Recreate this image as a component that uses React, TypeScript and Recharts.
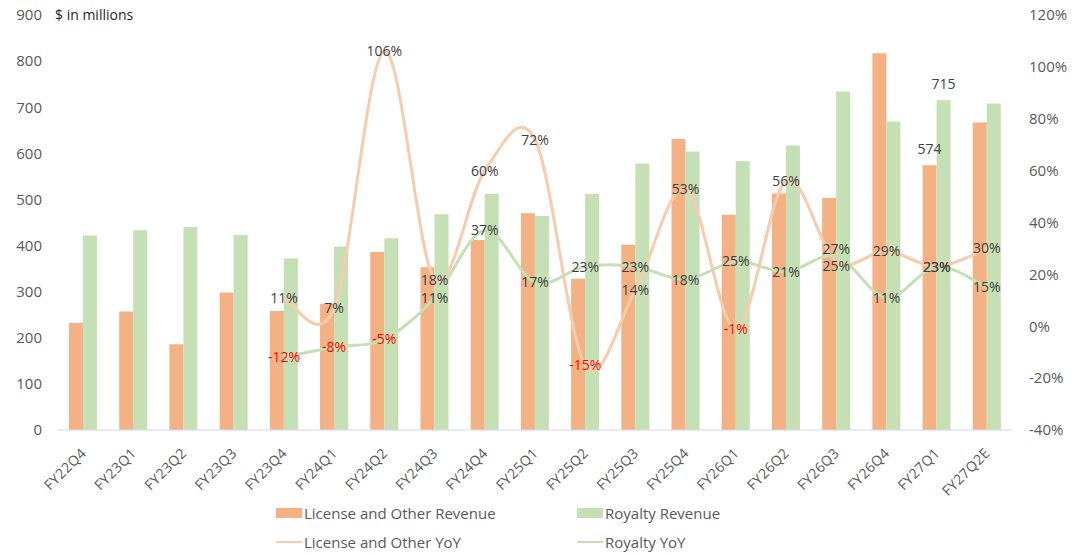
import React from 'react';
import { ComposedChart, Bar, Line, XAxis, YAxis, LabelList } from 'recharts';

const quarters = [
  'FY22Q4', 'FY23Q1', 'FY23Q2', 'FY23Q3', 'FY23Q4', 'FY24Q1', 'FY24Q2', 'FY24Q3', 'FY24Q4', 'FY25Q1',
  'FY25Q2', 'FY25Q3', 'FY25Q4', 'FY26Q1', 'FY26Q2', 'FY26Q3', 'FY26Q4', 'FY27Q1', 'FY27Q2E',
];
// $ in millions
const licenseRevenue = [232, 257, 186, 298, 258, 274, 386, 353, 412, 470, 328, 402, 631, 467, 513, 503, 817, 574, 667];
const royaltyRevenue = [422, 433, 440, 423, 372, 398, 416, 468, 512, 464, 512, 578, 604, 583, 617, 734, 669, 715, 708];
// YoY growth, %
const licenseYoY = [null, null, null, null, 11, 7, 106, 18, 60, 72, -15, 14, 53, -1, 56, 25, 29, 23, 30];
const royaltyYoY = [null, null, null, null, -12, -8, -5, 11, 37, 17, 23, 23, 18, 25, 21, 27, 11, 23, 15];

const leftTicks = [0, 100, 200, 300, 400, 500, 600, 700, 800, 900];
const rightTicks = [-40, -20, 0, 20, 40, 60, 80, 100, 120];
const labelledQuarters = ['FY27Q1'];

const data = quarters.map((quarter, i) => ({
  quarter,
  license: licenseRevenue[i],
  royalty: royaltyRevenue[i],
  licenseYoY: licenseYoY[i],
  royaltyYoY: royaltyYoY[i],
}));

const FONT = '"Open Sans", "Noto Sans", sans-serif';
const ORANGE = '#F4B183';
const GREEN = '#C5E0B4';
const ORANGE_LINE = '#F8CBAD';
const GREEN_LINE = '#C5E0B4';

// Excel-like smoothed line (Catmull-Rom through every point)
function smoothCurve(context: any) {
  let pts: number[][] = [];
  const flush = () => {
    if (!pts.length) return;
    context.moveTo(pts[0][0], pts[0][1]);
    for (let i = 0; i < pts.length - 1; i++) {
      const p0 = pts[i - 1] || pts[i];
      const p1 = pts[i];
      const p2 = pts[i + 1];
      const p3 = pts[i + 2] || p2;
      context.bezierCurveTo(
        p1[0] + (p2[0] - p0[0]) / 6, p1[1] + (p2[1] - p0[1]) / 6,
        p2[0] - (p3[0] - p1[0]) / 6, p2[1] - (p3[1] - p1[1]) / 6,
        p2[0], p2[1],
      );
    }
    pts = [];
  };
  return {
    areaStart() {},
    areaEnd() {},
    lineStart() { pts = []; },
    lineEnd() { flush(); },
    point(x: number, y: number) { pts.push([+x, +y]); },
  };
}

const QuarterTick = (props: any) => {
  const { x, y, payload } = props;
  return (
    <g transform={`translate(${x + 4},${y + 22})`}>
      <text
        x={0}
        y={0}
        textAnchor="end"
        transform="rotate(-45)"
        fill="#595959"
        fontSize={14}
        letterSpacing={0.4}
        fontFamily={FONT}
      >
        {payload.value}
      </text>
    </g>
  );
};

const barLabel = (props: any) => {
  const { x, y, width, value, index } = props;
  if (!labelledQuarters.includes(quarters[index])) return null;
  return (
    <text x={x + width / 2} y={y - 11} textAnchor="middle" fill="#404040" fontSize={14} fontFamily={FONT}>
      {value}
    </text>
  );
};

const yoyLabel = (other: (number | null)[]) => (props: any) => {
  const { x, y, value, index } = props;
  if (value == null) return null;
  const o = other[index];
  let dy = 0;
  if (o != null && o !== value && Math.abs(o - value) < 5) dy = value > o ? -7 : 5;
  return (
    <text
      x={x}
      y={y + dy}
      dy={5}
      textAnchor="middle"
      fill={value < 0 ? '#FF0000' : '#404040'}
      fontSize={14}
      fontFamily={FONT}
    >
      {`${value}%`}
    </text>
  );
};

const legendItems = [
  { name: 'License and Other Revenue', color: ORANGE, kind: 'bar', left: 276, top: 513 },
  { name: 'Royalty Revenue', color: GREEN, kind: 'bar', left: 577, top: 513 },
  { name: 'License and Other YoY', color: ORANGE_LINE, kind: 'line', left: 276, top: 542 },
  { name: 'Royalty YoY', color: GREEN_LINE, kind: 'line', left: 577, top: 542 },
];

export default function App() {
  return (
    <div style={{ position: 'relative', width: 1080, height: 555, background: '#fff', fontFamily: FONT }}>
      <style>{'body{margin:0}'}</style>
      <ComposedChart
        width={1080}
        height={555}
        data={data}
        margin={{ top: 15, right: 0, bottom: 65, left: 0 }}
        barGap={0}
        barCategoryGap={11}
      >
        <XAxis
          dataKey="quarter"
          interval={0}
          height={60}
          tickLine={false}
          tickSize={0}
          axisLine={{ stroke: '#D6D6E6' }}
          tick={<QuarterTick />}
        />
        <YAxis
          yAxisId="left"
          domain={[0, 900]}
          ticks={leftTicks}
          width={58}
          axisLine={false}
          tickLine={false}
          tickSize={0}
          tickMargin={16}
          tick={{ fill: '#595959', fontSize: 15, fontFamily: FONT }}
        />
        <YAxis
          yAxisId="right"
          orientation="right"
          domain={[-40, 120]}
          ticks={rightTicks}
          width={68}
          axisLine={false}
          tickLine={false}
          tickSize={0}
          tickMargin={17}
          tickFormatter={(v) => `${v}%`}
          tick={{ fill: '#595959', fontSize: 15, fontFamily: FONT, textAnchor: 'start' }}
        />
        <Bar yAxisId="left" dataKey="license" name="License and Other Revenue" fill={ORANGE} isAnimationActive={false}>
          <LabelList dataKey="license" content={barLabel} />
        </Bar>
        <Bar yAxisId="left" dataKey="royalty" name="Royalty Revenue" fill={GREEN} isAnimationActive={false}>
          <LabelList dataKey="royalty" content={barLabel} />
        </Bar>
        <Line
          yAxisId="right"
          dataKey="licenseYoY"
          name="License and Other YoY"
          type={smoothCurve as any}
          stroke={ORANGE_LINE}
          strokeWidth={3}
          dot={false}
          activeDot={false}
          isAnimationActive={false}
        />
        <Line
          yAxisId="right"
          dataKey="royaltyYoY"
          name="Royalty YoY"
          type={smoothCurve as any}
          stroke={GREEN_LINE}
          strokeWidth={3}
          dot={false}
          activeDot={false}
          isAnimationActive={false}
        />
        {/* label-only copies so the percentages sit above both lines */}
        <Line yAxisId="right" dataKey="licenseYoY" stroke="none" dot={false} activeDot={false} legendType="none" isAnimationActive={false}>
          <LabelList dataKey="licenseYoY" content={yoyLabel(royaltyYoY)} />
        </Line>
        <Line yAxisId="right" dataKey="royaltyYoY" stroke="none" dot={false} activeDot={false} legendType="none" isAnimationActive={false}>
          <LabelList dataKey="royaltyYoY" content={yoyLabel(licenseYoY)} />
        </Line>
      </ComposedChart>

      <div style={{ position: 'absolute', left: 55, top: 5, fontSize: 14, color: '#262626' }}>$ in millions</div>

      {legendItems.map((item) => (
        <div
          key={item.name}
          style={{
            position: 'absolute',
            left: item.left,
            top: item.top - 11,
            height: 22,
            display: 'flex',
            alignItems: 'center',
            fontSize: 15,
            color: '#595959',
            whiteSpace: 'nowrap',
          }}
        >
          <span
            style={{
              display: 'inline-block',
              width: 26,
              height: item.kind === 'bar' ? 10 : 2.5,
              background: item.color,
              marginRight: 2,
            }}
          />
          {item.name}
        </div>
      ))}
    </div>
  );
}
